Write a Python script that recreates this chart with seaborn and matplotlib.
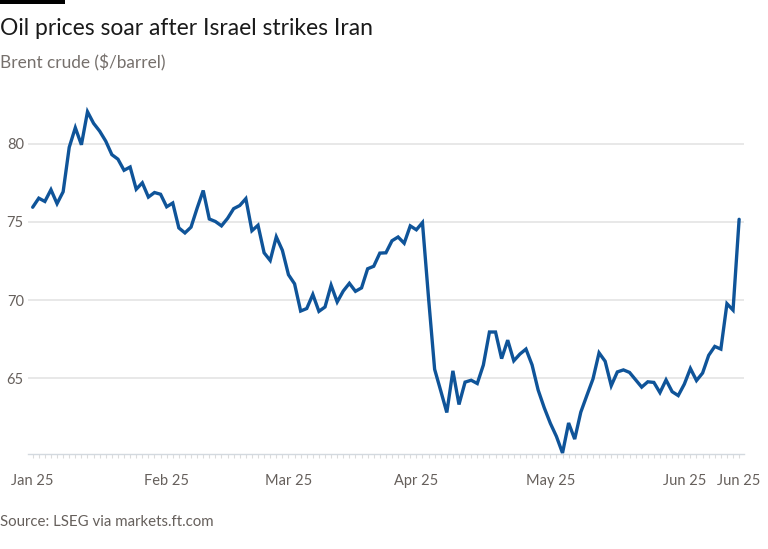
import numpy as np
import pandas as pd
import matplotlib
matplotlib.use("Agg")
import matplotlib.pyplot as plt
import seaborn as sns

# trading days, Brent front-month ($/barrel)
jan_days = [2, 3, 6, 7, 8, 9, 10, 13, 14, 15, 16, 17, 20, 21, 22, 23, 24, 27, 28, 29, 30, 31]
feb_days = [3, 4, 5, 6, 7, 10, 11, 12, 13, 14, 17, 18, 19, 20, 21, 24, 25, 26, 27, 28]
mar_days = [3, 4, 5, 6, 7, 10, 11, 12, 13, 14, 17, 18, 19, 20, 21, 24, 25, 26, 27, 28, 31]
apr_days = [1, 2, 3, 4, 7, 8, 9, 10, 11, 14, 15, 16, 17, 18, 21, 22, 23, 24, 25, 28, 29, 30]
may_days = [1, 2, 5, 6, 7, 8, 9, 12, 13, 14, 15, 16, 19, 20, 21, 22, 23, 26, 27, 28, 29, 30]
jun_days = [2, 3, 4, 5, 6, 9, 10, 11, 12, 13]

jan_px = [75.93, 76.51, 76.30, 77.05, 76.16, 76.92, 79.76, 81.01, 79.92, 82.03, 81.29,
          80.79, 80.15, 79.29, 79.00, 78.29, 78.50, 77.08, 77.49, 76.58, 76.87, 76.76]
feb_px = [75.96, 76.20, 74.61, 74.29, 74.66, 75.87, 77.00, 75.18, 75.02, 74.74,
          75.22, 75.84, 76.04, 76.48, 74.43, 74.78, 73.02, 72.53, 74.04, 73.18]
mar_px = [71.62, 71.04, 69.30, 69.46, 70.36, 69.28, 69.56, 70.95, 69.88, 70.58, 71.07,
          70.56, 70.78, 72.00, 72.16, 73.00, 73.02, 73.79, 74.03, 73.63, 74.74]
apr_px = [74.49, 74.95, 70.14, 65.58, 64.21, 62.82, 65.48, 63.33, 64.76, 64.88, 64.67,
          65.85, 67.96, 67.96, 66.26, 67.44, 66.12, 66.55, 66.87, 65.86, 64.25, 63.12]
may_px = [62.13, 61.29, 60.23, 62.15, 61.12, 62.84, 63.91, 64.96, 66.63, 66.09, 64.53,
          65.41, 65.54, 65.38, 64.91, 64.44, 64.78, 64.74, 64.09, 64.90, 64.15, 63.90]
jun_px = [64.63, 65.63, 64.86, 65.34, 66.47, 67.04, 66.87, 69.77, 69.36, 75.16]

y_ticks = [65, 70, 75, 80]

months = [(1, jan_days, jan_px), (2, feb_days, feb_px), (3, mar_days, mar_px),
          (4, apr_days, apr_px), (5, may_days, may_px), (6, jun_days, jun_px)]
rows = []
for m, days, px in months:
    for d, p in zip(days, px):
        rows.append((pd.Timestamp(2025, m, d), p))
df = pd.DataFrame(rows, columns=["date", "price"])
df["idx"] = np.arange(len(df))

sns.set_theme(style="white")
plt.rcParams["font.family"] = ["Lato", "DejaVu Sans"]

W, H = 768, 549
fig = plt.figure(figsize=(W / 100, H / 100), dpi=100)
fig.patch.set_facecolor("white")
ax = fig.add_axes([28 / W, 1 - 453.5 / H, (744 - 28) / W, (453.5 - 95) / H])

sns.lineplot(data=df, x="idx", y="price", ax=ax, color="#0f5499",
             linewidth=2.4, solid_joinstyle="miter")

n = len(df)
ax.set_xlim(-0.77, n - 1 + 0.8)
ax.set_ylim(60.2, 83.1)

# month labels at first trading day of each month, plus the last day
firsts = df.groupby(df["date"].dt.month)["idx"].first().tolist()
pos = firsts + [n - 1]
labels = [df["date"][i].strftime("%b %y") for i in pos]
ax.set_xticks(pos)
ax.set_xticklabels(labels)
ax.set_xticks(np.arange(n), minor=True)
ax.tick_params(axis="x", which="both", length=3, width=0.8, color="#dcdcdc",
               direction="out", bottom=True)
ax.tick_params(axis="x", which="major", pad=12, labelsize=10.5, labelcolor="#66605c")

ax.set_yticks(y_ticks)
ax.tick_params(axis="y", length=0, pad=3, labelsize=10.5, labelcolor="#66605c")
ax.yaxis.grid(True, color="#e4e4e4", linewidth=1.2)
ax.set_axisbelow(True)

for s in ["top", "right", "left"]:
    ax.spines[s].set_visible(False)
ax.spines["bottom"].set_color("#d3d9df")
ax.spines["bottom"].set_linewidth(1.0)
ax.set_xlabel("")
ax.set_ylabel("")

fig.add_artist(plt.Rectangle((0, 1 - 4 / H), 65 / W, 4 / H, transform=fig.transFigure,
                             color="black", lw=0))
fig.text(0, 1 - 35 / H, "Oil prices soar after Israel strikes Iran",
         fontsize=16.5, color="#1a1a1a", va="baseline", ha="left")
fig.text(0, 1 - 68 / H, "Brent crude ($/barrel)",
         fontsize=12.4, color="#76706c", va="baseline", ha="left")
fig.text(0, 1 - 526 / H, "Source: LSEG via markets.ft.com",
         fontsize=10.8, color="#66605c", va="baseline", ha="left")

fig.savefig("out.png", dpi=100)
